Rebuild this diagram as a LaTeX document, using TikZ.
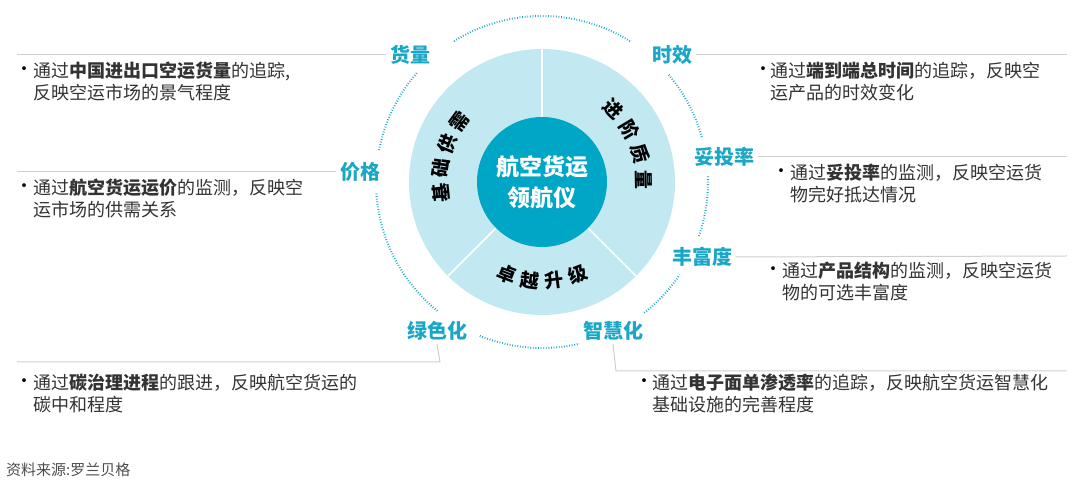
\documentclass[tikz,border=0pt]{standalone}
\usepackage{fontspec}
\setmainfont{Noto Sans CJK SC}
\usepackage{xcolor}
\usetikzlibrary{positioning,calc}
\definecolor{teal}{HTML}{00A6C6}
\definecolor{ringblue}{HTML}{C2E9F1}
\definecolor{labelblue}{HTML}{1AA7C6}
\definecolor{linegray}{HTML}{CFCFCF}

\begin{document}
\begin{tikzpicture}[x=1pt,y=1pt,
    dim/.style={labelblue, font=\fontsize{20}{22}\selectfont\bfseries},
    desc/.style={anchor=north west, align=left, inner sep=0pt, text=black!80,
        font=\fontsize{18}{22}\selectfont},
    bul/.style={anchor=north west, inner sep=0pt, font=\fontsize{18}{22}\selectfont},
    sep/.style={linegray, line width=1pt},
    dots/.style={labelblue, line width=2pt, dash pattern=on 0.8pt off 1.8pt},
    ringtxt/.style={font=\fontsize{19}{19}\selectfont\bfseries, inner sep=0pt}]
    \useasboundingbox (0,0) rectangle (1080,484);
    \coordinate (O) at (542,302);

    % ring and core
    \fill[ringblue] (O) circle (133);
    \foreach \a in {90,225,315}
        \draw[white, line width=1.5pt] (O) -- ++(\a:133);
    \node[circle, fill=teal, minimum size=130, inner sep=0pt, align=center,
        text=white, font=\fontsize{23}{31}\selectfont\bfseries] (core) at (O) {航空货运\\领航仪};

    % sector titles
    \foreach \c/\a in {基/186,础/172,供/158,需/144,进/46,阶/31,质/16,量/1}
        \node[ringtxt, rotate=\a-90] at ($(O)+(\a:102)$) {\c};
    \foreach \c/\a in {卓/249,越/263,升/277,级/291}
        \node[ringtxt, rotate=\a+90] at ($(O)+(\a:99)$) {\c};

    % dotted orbit
    \foreach \s/\e in {58/122,15.7/40.6,-19/2,-52/-34,-112/-77,184/231,139/169}
        \draw[dots] ($(O)+(\s:166)$) arc (\s:\e:166);

    % dimension labels
    \node[dim] (huoliang) at (410,429) {货量};
    \node[dim] (shixiao) at (672,429) {时效};
    \node[dim] (tuotou) at (724,327) {妥投率};
    \node[dim] (fengfu) at (702,227) {丰富度};
    \node[dim] (zhihui) at (613,153) {智慧化};
    \node[dim] (lvse) at (437,153) {绿色化};
    \node[dim] (jiage) at (360,312) {价格};

    % separators
    \draw[sep] (17,429) -- (huoliang.west);
    \draw[sep] (17,312) -- (jiage.west);
    \draw[sep] (shixiao.east) -- (1067,429);
    \draw[sep] (tuotou.east) -- (1067,327);
    \draw[sep] (fengfu.east) -- (1067,228);
    \draw[sep] (lvse.south) -- (440,122) -- (17,122);
    \draw[sep] (zhihui.south) -- (616,113) -- (1067,113);

    % descriptions
    \node[bul] at (15,417) {•};
    \node[desc] (d1) at (33,422) {通过\textbf{中国进出口空运货量}的追踪,\\反映空运市场的景气程度};
    \node[bul] at (15,300) {•};
    \node[desc] (d2) at (33,305) {通过\textbf{航空货运运价}的监测，反映空\\运市场的供需关系};
    \node[bul] at (754,417) {•};
    \node[desc] (d3) at (770,422) {通过\textbf{端到端总时间}的追踪，反映空\\运产品的时效变化};
    \node[bul] at (772,315) {•};
    \node[desc] (d4) at (790,320) {通过\textbf{妥投率}的监测，反映空运货\\物完好抵达情况};
    \node[bul] at (764,217) {•};
    \node[desc] (d5) at (782,222) {通过\textbf{产品结构}的监测，反映空运货\\物的可选丰富度};
    \node[bul] at (15,105) {•};
    \node[desc] (d6) at (33,110) {通过\textbf{碳治理进程}的跟进，反映航空货运的\\碳中和程度};
    \node[bul] at (635,105) {•};
    \node[desc] (d7) at (652,110) {通过\textbf{电子面单渗透率}的追踪，反映航空货运智慧化\\基础设施的完善程度};

    \node[anchor=west, inner sep=0pt, text=black!70, font=\fontsize{15}{16}\selectfont]
        (src) at (6,14) {资料来源:罗兰贝格};
\end{tikzpicture}
\end{document}
